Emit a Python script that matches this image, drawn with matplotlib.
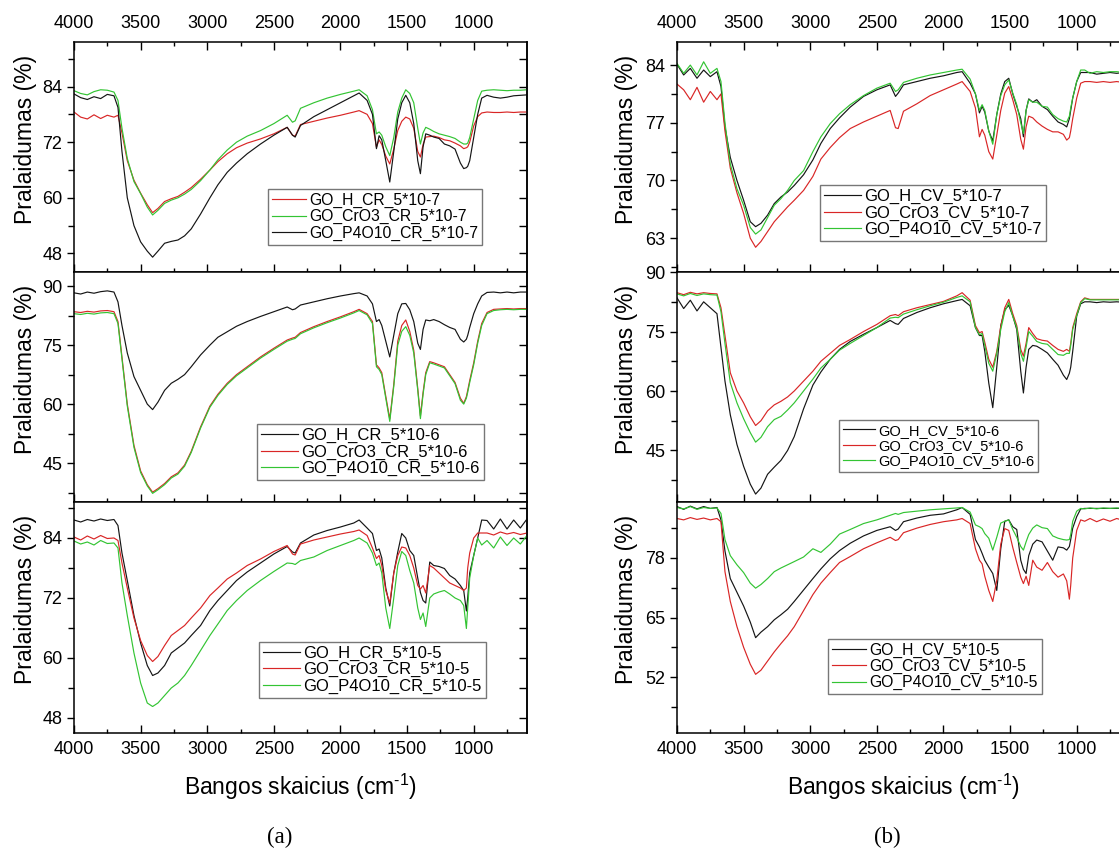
"""FTIR transmittance spectra, GO samples in CR (a) and CV (b) solutions."""
import matplotlib

matplotlib.use("Agg")
import matplotlib.pyplot as plt
from matplotlib.ticker import MultipleLocator

plt.rcParams["font.family"] = ["Liberation Sans", "DejaVu Sans"]
plt.rcParams["mathtext.fontset"] = "custom"
plt.rcParams["mathtext.rm"] = "Liberation Sans"
plt.rcParams["mathtext.it"] = "Liberation Sans:italic"
plt.rcParams["mathtext.bf"] = "Liberation Sans:bold"

# shared wavenumber grid (cm-1), read positions of the spectral features
wavenumber = [
    4000, 3950, 3900, 3850, 3800, 3750, 3700, 3670, 3640, 3600,
    3550, 3500, 3450, 3410, 3370, 3320, 3270, 3220, 3170, 3120,
    3050, 2980, 2920, 2850, 2780, 2700, 2600, 2500, 2400, 2360,
    2340, 2300, 2200, 2100, 2000, 1900, 1860, 1800, 1760, 1730,
    1710, 1690, 1660, 1630, 1600, 1570, 1540, 1510, 1480, 1450,
    1420, 1400, 1380, 1360, 1330, 1300, 1260, 1220, 1180, 1140,
    1100, 1075, 1055, 1045, 1030, 1000, 970, 940, 900, 850,
    800, 750, 700, 650, 600,
]

# ---- (a) CR, 5*10-7 ----
cr7_h = [
    78.5, 77.4, 77.0, 77.9, 77.1, 77.8, 77.4, 77.8, 74.0, 68.0,
    63.8, 61.0, 58.5, 56.8, 57.7, 59.2, 59.8, 60.3, 61.2, 62.2,
    64.0, 66.0, 67.8, 69.5, 70.8, 71.8, 72.7, 73.8, 75.2, 73.5,
    73.3, 75.8, 76.5, 77.2, 77.8, 78.5, 78.8, 78.0, 76.0, 70.9,
    72.5, 71.5, 69.0, 67.3, 70.5, 74.5, 76.5, 77.4, 77.0, 75.0,
    70.0, 68.8, 71.5, 73.1, 73.2, 73.3, 73.0, 72.5, 72.3, 71.8,
    71.2, 70.6, 70.8, 71.0, 72.0, 75.5, 77.5, 78.3, 78.5, 78.4,
    78.4, 78.5, 78.4, 78.5, 78.5,
]
cr7_cro3 = [
    83.1, 82.5, 82.2, 82.9, 83.3, 83.2, 82.8, 81.0, 75.0, 68.5,
    63.5, 60.9, 58.0, 56.3, 57.3, 58.8, 59.5, 60.0, 60.8, 61.8,
    63.7, 66.0, 68.2, 70.3, 72.0, 73.3, 74.5, 76.0, 77.8, 76.3,
    76.6, 79.3, 80.5, 81.5, 82.3, 83.0, 83.3, 82.0, 79.0, 73.8,
    74.2, 73.5, 71.0, 69.1, 73.0, 78.5, 81.5, 83.3, 82.5, 80.5,
    75.0, 71.6, 74.0, 75.2, 74.8, 74.3, 73.8, 73.5, 73.2, 72.8,
    72.0, 71.6, 71.6, 71.8, 73.0, 77.0, 81.0, 83.0, 83.2, 83.3,
    83.2, 83.1, 83.2, 83.2, 83.3,
]
cr7_p4o10 = [
    82.4, 81.6, 81.2, 81.8, 81.4, 82.3, 82.0, 79.5, 70.0, 60.0,
    54.0, 50.5, 48.5, 47.2, 48.5, 50.2, 50.6, 50.9, 51.8, 53.3,
    56.5, 60.0, 62.8, 65.5, 67.5, 69.5, 71.6, 73.5, 75.2, 73.5,
    73.1, 75.6, 77.5, 79.0, 80.5, 82.0, 82.6, 81.0, 78.0, 70.6,
    73.4, 72.5, 68.0, 63.4, 70.0, 77.0, 80.5, 82.1, 80.5, 76.0,
    68.0, 65.2, 71.0, 73.8, 73.5, 73.1, 72.8, 71.6, 71.2, 70.5,
    67.5, 66.3, 66.5, 66.8, 68.0, 73.0, 78.0, 81.5, 82.1, 81.7,
    81.5, 81.7, 82.0, 82.1, 82.2,
]

# ---- (a) CR, 5*10-6 ----
cr6_h = [
    88.3, 88.0, 88.5, 88.2, 88.6, 88.8, 88.5, 86.0, 80.0, 73.0,
    67.0, 63.5, 60.0, 58.6, 60.5, 63.5, 65.3, 66.3, 67.5, 69.5,
    72.5, 75.0, 77.0, 78.4, 79.8, 81.0, 82.3, 83.5, 84.7, 84.0,
    84.2, 85.2, 86.0, 86.8, 87.5, 88.1, 88.3, 87.5, 85.5, 81.0,
    81.5, 80.0, 76.0, 72.0, 77.5, 83.0, 85.5, 85.6, 84.0, 81.0,
    75.5, 73.9, 79.0, 81.4, 81.2, 81.5, 81.0, 80.2, 79.5, 79.0,
    76.5, 75.8, 76.5, 77.5, 79.5, 83.0, 85.5, 87.5, 88.4, 88.5,
    88.3, 88.5, 88.3, 88.5, 88.5,
]
cr6_cro3 = [
    83.5, 83.3, 83.6, 83.4, 83.7, 83.8, 83.5, 81.0, 72.0, 60.0,
    49.5, 43.0, 39.5, 37.6, 38.5, 39.8, 41.5, 42.5, 44.5, 48.0,
    54.2, 59.5, 62.5, 65.3, 67.5, 69.5, 72.0, 74.2, 76.3, 76.8,
    77.0, 78.2, 79.7, 81.0, 82.2, 83.5, 84.1, 83.0, 81.0, 70.0,
    69.2, 68.0, 62.0, 56.2, 65.0, 76.0, 80.0, 81.4, 78.5, 73.7,
    64.0, 57.0, 63.0, 68.0, 70.8, 70.5, 70.0, 69.5, 67.5, 65.5,
    61.5, 60.2, 61.9, 63.5, 66.0, 70.5, 76.0, 80.5, 83.3, 84.1,
    84.2, 84.3, 84.2, 84.3, 84.3,
]
cr6_p4o10 = [
    83.0, 82.8, 83.1, 82.9, 83.2, 83.3, 83.0, 80.5, 71.5, 59.5,
    49.0, 42.6, 39.2, 37.3, 38.2, 39.5, 41.2, 42.2, 44.2, 47.7,
    53.9, 59.2, 62.2, 65.0, 67.2, 69.2, 71.7, 73.9, 76.0, 76.5,
    76.7, 77.9, 79.4, 80.7, 81.9, 83.2, 83.8, 82.7, 80.5, 69.5,
    68.8, 67.5, 61.5, 55.6, 64.5, 75.0, 78.5, 79.7, 77.5, 73.0,
    63.5, 56.3, 62.5, 67.5, 70.5, 70.2, 69.7, 69.2, 67.2, 65.2,
    61.0, 60.0, 61.5, 63.0, 65.5, 70.0, 75.5, 80.0, 83.0, 83.8,
    84.0, 84.1, 84.0, 84.1, 84.1,
]

# ---- (a) CR, 5*10-5 ----
cr5_h = [
    87.6, 87.2, 87.7, 87.4, 87.8, 87.5, 87.7, 86.5, 81.0, 75.5,
    68.5, 63.0, 58.5, 56.5, 57.0, 58.5, 61.0, 62.0, 63.0, 64.5,
    66.5, 69.5, 71.5, 73.5, 75.5, 77.2, 79.0, 80.8, 82.3, 81.2,
    81.0, 83.0, 84.6, 85.5, 86.2, 87.0, 87.6, 86.0, 84.9, 81.5,
    81.8, 80.0, 74.0, 70.4, 77.0, 81.2, 84.9, 84.0, 81.5, 80.5,
    76.0, 73.1, 71.5, 71.0, 79.2, 78.5, 78.3, 77.9, 76.5, 75.8,
    74.5, 73.5, 69.4, 72.0, 77.0, 80.5, 84.0, 87.6, 87.5, 85.8,
    87.8, 85.8, 87.6, 86.0, 87.8,
]
cr5_cro3 = [
    84.2, 83.6, 84.4, 83.8, 84.5, 83.9, 84.0, 83.5, 79.0, 74.0,
    68.0, 63.5, 60.5, 59.3, 60.3, 62.5, 64.5, 65.5, 66.5, 68.0,
    70.0, 72.5, 74.0, 75.8, 77.0, 78.5, 79.8, 81.3, 82.5, 80.8,
    80.6, 82.8, 83.6, 84.2, 84.8, 85.3, 85.6, 84.5, 82.0, 79.9,
    80.5, 78.5, 73.5, 71.0, 77.0, 80.5, 82.2, 82.0, 80.5, 78.0,
    74.5, 73.8, 74.5, 73.0, 78.5, 78.0, 77.0, 76.0, 75.0, 74.5,
    74.0, 73.5, 74.0, 78.0, 81.0, 84.0, 85.0, 85.0, 85.0, 84.6,
    85.2, 84.8, 85.1, 84.7, 85.0,
]
cr5_p4o10 = [
    83.4, 82.8, 83.2, 82.6, 83.5, 82.9, 83.0, 82.0, 75.0, 68.5,
    61.0, 55.0, 51.0, 50.3, 51.0, 52.5, 54.0, 55.0, 56.5, 58.5,
    61.5, 64.5, 66.8, 69.5, 71.5, 73.5, 75.5, 77.3, 79.0, 78.9,
    78.7, 79.5, 80.2, 81.5, 82.5, 83.5, 84.0, 83.0, 81.0, 78.5,
    79.0, 77.0, 70.0, 65.9, 72.0, 78.5, 81.3, 80.5, 77.5, 75.0,
    70.0, 67.7, 69.0, 66.3, 72.0, 72.8, 73.2, 73.5, 72.8, 72.0,
    71.5, 70.5, 65.9, 70.0, 76.0, 80.5, 84.0, 82.6, 83.5, 82.0,
    84.2, 82.5, 84.0, 82.8, 84.5,
]

# ---- (b) CV, 5*10-7 ----
cv7_h = [
    84.1, 82.8, 83.6, 82.4, 83.4, 82.6, 83.2, 81.4, 76.5, 72.8,
    70.0, 67.6, 65.0, 64.4, 64.8, 65.8, 67.2, 68.0, 68.6, 69.4,
    70.7, 72.5, 74.5, 76.3, 77.6, 78.9, 80.2, 81.0, 81.6, 80.2,
    80.6, 81.6, 82.0, 82.4, 82.7, 83.1, 83.2, 81.8, 80.5, 78.2,
    79.0, 78.3, 76.0, 74.8, 78.0, 80.5, 82.0, 82.4, 80.5, 79.0,
    77.5, 75.3, 78.5, 79.9, 79.5, 79.8, 79.0, 78.6, 77.8, 77.1,
    76.8, 76.5, 77.5, 78.5, 80.0, 82.0, 83.1, 83.1, 83.1, 82.9,
    83.0, 83.1, 83.0, 83.1, 83.0,
]
cv7_cro3 = [
    81.7, 81.0, 79.8, 81.3, 79.5, 80.8, 79.8, 80.5, 76.0, 71.5,
    68.5, 66.0, 63.0, 61.9, 62.6, 63.8, 65.0, 65.9, 66.8, 67.6,
    68.8, 70.5, 72.6, 74.0, 75.2, 76.3, 77.1, 77.8, 78.5, 76.4,
    76.3, 78.4, 79.3, 80.3, 81.0, 81.7, 82.0, 80.8, 78.8, 75.3,
    76.2, 75.5, 73.5, 72.6, 75.5, 78.5, 80.6, 81.4, 79.8, 78.0,
    75.0, 73.8, 76.5, 77.8, 77.6, 77.1, 76.6, 76.2, 75.9, 75.9,
    75.6, 74.9, 75.2, 76.0, 77.5, 80.0, 81.8, 82.0, 82.0, 81.9,
    82.0, 81.9, 82.0, 81.9, 82.0,
]
cv7_p4o10 = [
    84.2, 83.0, 84.0, 82.8, 84.4, 83.0, 83.6, 82.0, 77.0, 72.0,
    69.0, 67.0, 64.3, 63.5, 64.0, 65.5, 67.0, 67.8, 68.8, 70.0,
    71.2, 73.5, 75.3, 76.9, 78.1, 79.2, 80.3, 81.2, 81.8, 80.8,
    81.0, 81.9, 82.4, 82.8, 83.1, 83.4, 83.5, 82.3, 80.5, 78.5,
    79.2, 78.5, 76.0, 74.4, 78.0, 80.3, 81.6, 82.2, 80.6, 79.2,
    77.0, 75.7, 78.5, 79.8, 79.5, 79.5, 79.0, 78.9, 78.0, 77.5,
    77.2, 77.1, 77.8, 78.8, 80.0, 82.0, 83.4, 83.4, 83.0, 83.2,
    83.1, 83.2, 83.2, 83.1, 83.2,
]

# ---- (b) CV, 5*10-6 ----
cv6_h = [
    83.5, 80.8, 82.9, 80.2, 82.5, 81.0, 79.5, 71.0, 62.5, 54.0,
    46.5, 41.0, 36.5, 34.0, 35.5, 39.0, 40.8, 42.5, 45.0, 48.5,
    55.5, 61.5, 64.8, 68.0, 70.5, 72.5, 74.3, 76.0, 77.8, 77.0,
    76.8, 78.3, 79.8, 81.0, 82.0, 82.8, 83.1, 81.5, 76.0, 74.0,
    74.0, 70.0, 62.0, 55.8, 66.0, 76.5, 80.5, 81.6, 79.0, 75.5,
    65.0, 59.5, 66.0, 70.5, 71.5, 71.3, 70.5, 69.6, 68.0, 66.5,
    64.0, 62.9, 64.5, 66.0, 70.0, 78.9, 82.0, 82.5, 82.5, 82.3,
    82.5, 82.4, 82.5, 82.4, 82.5,
]
cv6_cro3 = [
    84.8, 84.3, 84.9, 84.5, 84.8, 84.6, 84.5, 81.0, 74.0, 64.6,
    60.0, 57.0, 53.5, 51.3, 52.5, 55.0, 56.5, 57.4, 58.5, 60.0,
    62.5, 65.0, 67.5, 69.5, 71.5, 73.0, 75.0, 76.8, 79.0, 79.3,
    79.0, 80.0, 81.0, 81.8, 82.6, 84.0, 84.8, 82.9, 76.5, 74.7,
    75.0, 72.3, 68.0, 66.0, 70.0, 76.3, 81.0, 83.1, 79.5, 76.5,
    70.5, 68.8, 72.0, 76.0, 74.5, 73.2, 72.8, 72.6, 71.5, 70.5,
    70.0, 70.5, 70.0, 72.0, 76.0, 79.5, 82.5, 83.5, 83.1, 83.1,
    83.1, 83.1, 83.1, 83.1, 83.1,
]
cv6_p4o10 = [
    84.5, 84.0, 84.6, 84.1, 84.5, 84.3, 84.2, 80.0, 72.0, 62.1,
    57.0, 53.0, 49.5, 47.1, 48.3, 51.0, 52.8, 53.6, 55.2, 57.0,
    60.0, 63.0, 65.8, 68.0, 70.3, 72.0, 74.0, 76.0, 78.4, 78.6,
    78.5, 79.4, 80.5, 81.5, 82.4, 83.6, 84.0, 82.5, 76.0, 74.2,
    74.5, 71.5, 67.0, 65.0, 69.5, 75.5, 80.0, 82.3, 78.8, 76.0,
    69.5, 67.5, 71.0, 75.0, 73.8, 72.5, 72.0, 71.8, 70.5, 69.2,
    69.0, 69.5, 69.5, 71.5, 75.5, 79.0, 82.3, 83.3, 83.0, 83.0,
    83.0, 83.0, 83.0, 83.0, 83.0,
]

# ---- (b) CV, 5*10-5 ----
cv5_h = [
    89.2, 88.6, 89.3, 88.7, 89.2, 88.8, 89.0, 86.3, 79.5, 73.5,
    70.5, 67.5, 64.0, 60.6, 61.8, 63.0, 64.5, 65.6, 66.8, 68.5,
    71.0, 73.5, 75.6, 77.8, 79.6, 81.2, 82.8, 84.0, 84.8, 84.0,
    84.3, 85.9, 86.7, 87.3, 87.6, 88.5, 89.0, 87.5, 82.0, 80.4,
    79.0, 77.5, 76.0, 74.6, 70.9, 80.0, 86.0, 86.3, 84.8, 84.2,
    77.5, 75.5, 74.6, 78.5, 81.0, 81.9, 81.5, 79.5, 77.5, 80.4,
    80.2, 79.7, 80.5, 82.0, 84.5, 87.0, 88.7, 88.8, 88.8, 88.8,
    88.8, 88.8, 88.8, 88.8, 88.8,
]
cv5_cro3 = [
    86.6, 86.3, 86.8, 86.4, 86.7, 86.3, 86.6, 85.9, 75.0, 68.5,
    63.0, 58.5, 54.8, 52.6, 53.5, 55.5, 57.5, 59.3, 61.0, 63.0,
    66.5, 70.0, 72.5, 74.8, 77.0, 78.3, 80.0, 81.3, 82.5, 81.8,
    82.0, 83.5, 84.5, 85.3, 85.9, 86.3, 86.6, 85.5, 80.0, 77.5,
    76.7, 74.0, 70.9, 68.5, 73.1, 81.0, 84.4, 84.0, 80.3, 77.0,
    73.8, 72.4, 74.0, 72.0, 77.5, 76.0, 75.3, 77.0, 75.0, 73.8,
    74.5, 73.0, 69.0, 72.0, 78.0, 84.0, 86.3, 86.0, 86.6, 85.9,
    86.5, 86.0, 86.6, 86.2, 86.4,
]
cv5_p4o10 = [
    89.0, 88.7, 89.2, 88.6, 89.0, 88.8, 88.9, 87.7, 82.0, 78.5,
    76.5, 74.8, 72.5, 71.4, 72.2, 73.5, 75.0, 75.8, 76.5, 77.2,
    78.2, 80.0, 79.2, 81.0, 83.2, 84.2, 85.5, 86.3, 87.3, 87.7,
    87.5, 87.9, 88.2, 88.5, 88.7, 88.9, 89.0, 88.0, 85.2, 84.8,
    84.4, 83.3, 82.3, 79.7, 82.5, 85.6, 86.0, 86.3, 84.2, 82.5,
    80.5, 79.7, 81.5, 83.1, 84.5, 85.2, 84.6, 84.4, 82.8, 82.3,
    82.0, 81.9, 82.0, 83.1, 86.0, 88.2, 88.8, 88.7, 88.9, 88.7,
    88.9, 88.8, 88.9, 88.8, 88.9,
]

BLACK, RED, GREEN = "#151515", "#d92626", "#33c433"
W, H = 1119, 851

fig = plt.figure(figsize=(W / 100, H / 100), dpi=100)


def add_panel(left, right, top, bottom):
    return fig.add_axes([left / W, 1 - bottom / H, (right - left) / W, (bottom - top) / H])


def draw_panel(ax, curves, ylim, step, row, legend_at, legend_size):
    for label, values, color in curves:
        ax.plot(wavenumber, values, color=color, lw=0.85, label=label)
    ax.set_xlim(4000, 600)
    ax.set_ylim(*ylim)
    ax.xaxis.set_major_locator(MultipleLocator(500))
    ax.xaxis.set_minor_locator(MultipleLocator(250))
    ax.yaxis.set_major_locator(MultipleLocator(step))
    ax.yaxis.set_minor_locator(MultipleLocator(step / 2))
    ax.tick_params(axis="x", which="both", direction="in", top=(row == 0),
                   bottom=True, labeltop=(row == 0), labelbottom=(row == 2),
                   labelsize=13, width=1.0)
    ax.tick_params(axis="x", which="major", length=5.5, pad=7 if row == 0 else 6)
    ax.tick_params(axis="x", which="minor", length=3)
    ax.tick_params(axis="y", which="both", direction="out", right=False,
                   labelsize=13, pad=3.5, width=1.0)
    ax.tick_params(axis="y", which="major", length=5)
    ax.tick_params(axis="y", which="minor", length=4)
    for s in ax.spines.values():
        s.set_linewidth(1.1)

    sec = ax.secondary_yaxis("right")
    sec.yaxis.set_major_locator(MultipleLocator(step))
    sec.yaxis.set_minor_locator(MultipleLocator(step / 2))
    sec.tick_params(which="both", direction="in", labelright=False, length=5.5, width=1.0)
    sec.spines["right"].set_linewidth(1.1)

    ax.set_ylabel("Pralaidumas (%)", fontsize=16.5)
    if row == 2:
        # hyphen (not a math minus) in the superscript, as in the original
        ax.set_xlabel(r"Bangos skaicius (cm$^{\text{-1}}$)", fontsize=16.5)

    leg = ax.legend(loc="upper left", bbox_to_anchor=legend_at, fontsize=legend_size,
                    frameon=True, fancybox=False, edgecolor="#555555",
                    borderpad=0.25, handlelength=2.2, handletextpad=0.2,
                    labelspacing=0.08, borderaxespad=0)
    leg.get_frame().set_linewidth(1.0)


rows = [(42, 272), (272, 502), (502, 733)]
columns = [(74, 527), (677, 1130)]

left_panels = [
    ([("GO_H_CR_5*10-7", cr7_h, RED), ("GO_CrO3_CR_5*10-7", cr7_cro3, GREEN),
      ("GO_P4O10_CR_5*10-7", cr7_p4o10, BLACK)], (44.0, 93.6), 12, (0.428, 0.361), 11.3),
    ([("GO_H_CR_5*10-6", cr6_h, BLACK), ("GO_CrO3_CR_5*10-6", cr6_cro3, RED),
      ("GO_P4O10_CR_5*10-6", cr6_p4o10, GREEN)], (35.1, 93.6), 15, (0.404, 0.339), 12),
    ([("GO_H_CR_5*10-5", cr5_h, BLACK), ("GO_CrO3_CR_5*10-5", cr5_cro3, RED),
      ("GO_P4O10_CR_5*10-5", cr5_p4o10, GREEN)], (45.0, 91.2), 12, (0.408, 0.396), 12),
]
right_panels = [
    ([("GO_H_CV_5*10-7", cv7_h, BLACK), ("GO_CrO3_CV_5*10-7", cv7_cro3, RED),
      ("GO_P4O10_CV_5*10-7", cv7_p4o10, GREEN)], (58.9, 86.8), 7, (0.316, 0.378), 12),
    ([("GO_H_CV_5*10-6", cv6_h, BLACK), ("GO_CrO3_CV_5*10-6", cv6_cro3, RED),
      ("GO_P4O10_CV_5*10-6", cv6_p4o10, GREEN)], (32.0, 90.02), 15, (0.358, 0.357), 10.5),
    ([("GO_H_CV_5*10-5", cv5_h, BLACK), ("GO_CrO3_CV_5*10-5", cv5_cro3, RED),
      ("GO_P4O10_CV_5*10-5", cv5_p4o10, GREEN)], (39.8, 90.2), 13, (0.333, 0.409), 11.3),
]

for (x0, x1), panels, ylab_x in zip(columns, [left_panels, right_panels], [-0.082, -0.086]):
    for row, ((y0, y1), (curves, ylim, step, leg_at, leg_size)) in enumerate(zip(rows, panels)):
        ax = add_panel(x0, x1, y0, y1)
        draw_panel(ax, curves, ylim, step, row, leg_at, leg_size)
        ax.yaxis.set_label_coords(ylab_x, 0.578)
        if row == 2:
            ax.xaxis.set_label_coords(0.5, -0.17)

fig.text(280 / W, 1 - 837 / H, "(a)", ha="center", va="center",
         fontsize=16.5, family="Liberation Serif")
fig.text(887 / W, 1 - 837 / H, "(b)", ha="center", va="center",
         fontsize=16.5, family="Liberation Serif")

fig.savefig("out.png", dpi=100)
